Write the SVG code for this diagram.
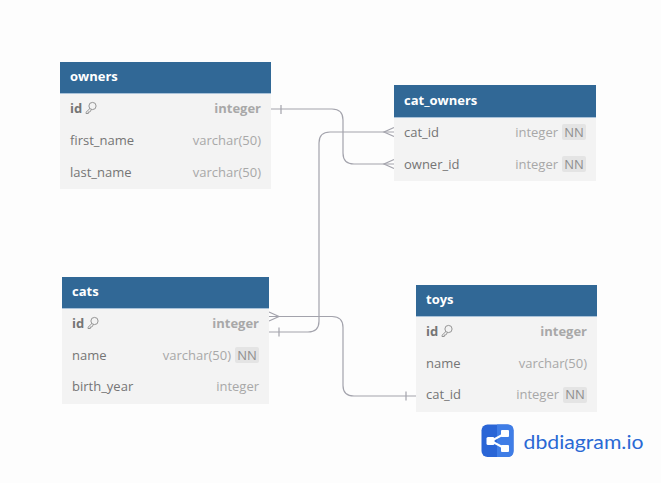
<svg xmlns="http://www.w3.org/2000/svg" width="661" height="483" viewBox="0 0 661 483">
<style>
text{font-family:"Open Sans","Noto Sans",sans-serif;font-size:13px}
.h{fill:#316896}
.hl{fill:#a9c2d9}
.b{fill:#f3f3f3}
.alt{fill:#f0f0f0}
.t{fill:#fff;font-weight:700}
.n{fill:#757575}
.nb{fill:#757575;font-weight:700}
.ty{fill:#a8a8a8;text-anchor:end}
.tb{fill:#a8a8a8;text-anchor:end;font-weight:700}
.nnb{fill:#e4e4e4}
.nn{fill:#8f8f8f;text-anchor:middle}
.c{fill:none;stroke:#a3a3ac;stroke-width:1.2}
.k{fill:none;stroke:#8a8a8a;stroke-width:.9}
</style>
<defs>
<g id="key"><circle cx="6" cy="-2.500" r="3.600" class="k"/><path d="M3.400 0L-0.500 3.800L-0.500 5L1.800 5L1.800 3.500L3.300 3.500L5 1" class="k"/></g>
</defs>
<rect width="661" height="483" fill="#fdfdfd"/>
<g id="connectors">
<path class="c" d="M271 109H332Q343 109 343 120V153Q343 164 354 164H394"/>
<path class="c" d="M281 105V114"/>
<path class="c" d="M394 159.500L384 164L394 168.500"/>
<path class="c" d="M269 332H308Q319 332 319 321V143Q319 132 330 132H394"/>
<path class="c" d="M279 327.500V336.500"/>
<path class="c" d="M394 127.500L384 132L394 136.500"/>
<path class="c" d="M269 316.500H332Q343 316.500 343 327.500V385.500Q343 396 354 396H416"/>
<path class="c" d="M269 312L279 316.500L269 321"/>
<path class="c" d="M406 391.500V400.500"/>
</g>
<g id="owners">
<rect class="b" x="60" y="62" width="211" height="127"/>
<rect class="h" x="60" y="62" width="211" height="31"/>
<rect class="hl" x="60" y="93" width="211" height="1"/>
<text class="t" x="70" y="81">owners</text>
<text class="nb" x="70" y="113">id</text><use href="#key" x="86.500" y="108.500"/>
<text class="tb" x="261" y="113">integer</text>
<text class="n" x="70" y="145">first_name</text><text class="ty" x="261" y="145">varchar(50)</text>
<text class="n" x="70" y="177">last_name</text><text class="ty" x="261" y="177">varchar(50)</text>
</g>
<g id="cat_owners">
<rect class="b" x="394" y="85" width="202" height="96"/>
<rect class="h" x="394" y="85" width="202" height="32"/>
<rect class="hl" x="394" y="117" width="202" height="1"/>
<text class="t" x="404" y="105">cat_owners</text>
<text class="n" x="404" y="137">cat_id</text><text class="ty" x="558" y="137">integer</text>
<rect class="nnb" x="562" y="124" width="24" height="16" rx="2"/><text class="nn" x="574" y="137">NN</text>
<text class="n" x="404" y="169">owner_id</text><text class="ty" x="558" y="169">integer</text>
<rect class="nnb" x="562" y="156" width="24" height="16" rx="2"/><text class="nn" x="574" y="169">NN</text>
</g>
<g id="cats">
<rect class="b" x="62" y="277" width="207" height="127"/>
<rect class="h" x="62" y="277" width="207" height="31"/>
<rect class="hl" x="62" y="308" width="207" height="1"/>
<text class="t" x="72" y="296">cats</text>
<text class="nb" x="72" y="328">id</text><use href="#key" x="88.500" y="323.500"/>
<text class="tb" x="259" y="328">integer</text>
<text class="n" x="72" y="360">name</text><text class="ty" x="231" y="360">varchar(50)</text>
<rect class="nnb" x="235" y="347" width="24" height="16" rx="2"/><text class="nn" x="247" y="360">NN</text>
<text class="n" x="72" y="391">birth_year</text><text class="ty" x="259" y="391">integer</text>
</g>
<g id="toys">
<rect class="b" x="416" y="285" width="181" height="127"/>
<rect class="h" x="416" y="285" width="181" height="31"/>
<rect class="hl" x="416" y="316" width="181" height="1"/>
<text class="t" x="426" y="304">toys</text>
<text class="nb" x="426" y="336">id</text><use href="#key" x="442.500" y="331.500"/>
<text class="tb" x="587" y="336">integer</text>
<text class="n" x="426" y="368">name</text><text class="ty" x="587" y="368">varchar(50)</text>
<text class="n" x="426" y="399">cat_id</text><text class="ty" x="559" y="399">integer</text>
<rect class="nnb" x="563" y="387" width="24" height="16" rx="2"/><text class="nn" x="575" y="399">NN</text>
</g>
<g id="logo">
<rect x="481.500" y="424.500" width="32" height="32.500" rx="6" fill="#2a65d6"/>
<path d="M497 424.500H507.500Q513.500 424.500 513.500 430.500V451Q513.500 457 507.500 457H497Z" fill="#3f7de6"/>
<path d="M505 433.500L491 441L505 448.500" fill="none" stroke="#fff" stroke-width="2"/>
<rect x="501" y="430" width="8" height="7" rx="1" fill="#fff"/>
<rect x="501" y="445" width="8" height="7" rx="1" fill="#fff"/>
<rect x="486.500" y="437" width="8" height="8" rx="1.500" fill="#fff"/>
<text x="523.500" y="449" textLength="120" lengthAdjust="spacingAndGlyphs" style="font-size:19.500px;fill:#2a69d4;font-family:'Lato','Open Sans',sans-serif">dbdiagram.io</text>
</g>
</svg>
